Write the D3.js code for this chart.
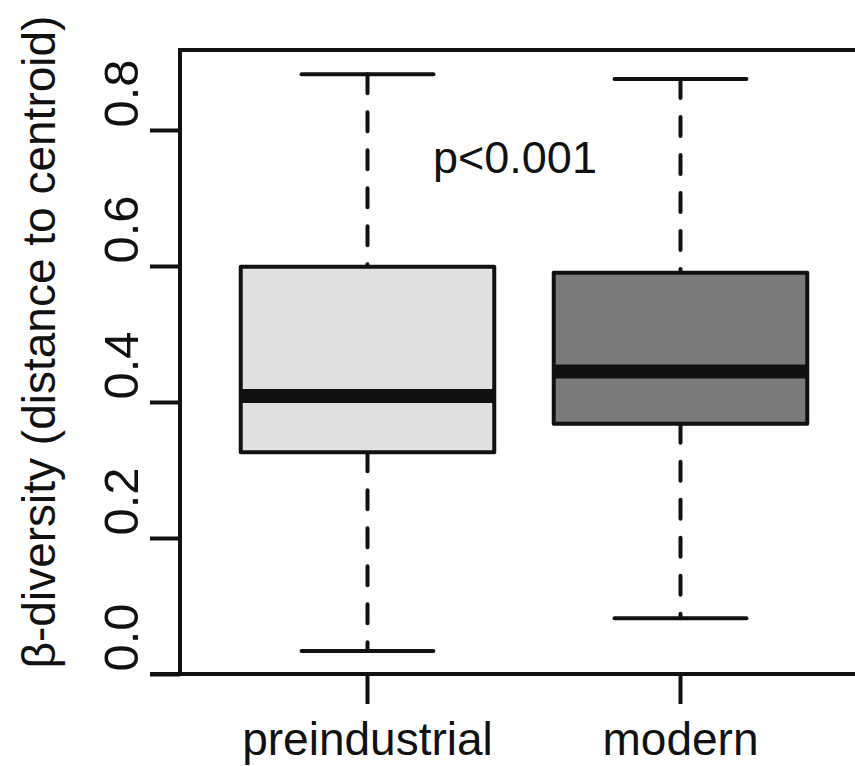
<!DOCTYPE html>
<html>
<head>
<meta charset="utf-8">
<script src="https://cdn.jsdelivr.net/npm/d3@7"></script>
<style>
  body { margin: 0; background: #fff; }
  svg { display: block; font-family: "Liberation Sans", Arial, Helvetica, sans-serif; }
</style>
</head>
<body>
<div id="chart"></div>
<script>
// data
const categories = ['preindustrial', 'modern'];
const whiskerLow = [0.034, 0.082];
const q1 = [0.326, 0.368];
const medians = [0.409, 0.445];
const q3 = [0.599, 0.590];
const whiskerHigh = [0.882, 0.875];
const yTicks = [0.0, 0.2, 0.4, 0.6, 0.8];
const fills = ['#dfe0e0', '#7a7a7a'];
const pLabel = 'p<0.001';

const W = 855, H = 766;
const plotLeft = 180, plotTop = 50, plotBottom = 674;
const ink = '#111';

const data = categories.map((c, i) => ({
  name: c, lo: whiskerLow[i], q1: q1[i], med: medians[i], q3: q3[i], hi: whiskerHigh[i], fill: fills[i]
}));

const x = d3.scaleBand().domain(categories).range([211, 837]);
const y = d3.scaleLinear().domain([0, 0.8]).range([plotBottom, 130]);

const svg = d3.select('#chart').append('svg')
  .attr('width', W).attr('height', H);

const boxW = x.bandwidth() * 0.81;
const capW = boxW * 0.52;

const g = svg.append('g');
const box = g.selectAll('g.box').data(data).enter().append('g').attr('class', 'box')
  .attr('transform', d => `translate(${x(d.name) + x.bandwidth() / 2},0)`);

// dashed whiskers
box.append('line')
  .attr('x1', 0).attr('x2', 0)
  .attr('y1', d => y(d.hi)).attr('y2', d => y(d.q3))
  .attr('stroke', ink).attr('stroke-width', 4)
  .attr('stroke-dasharray', '19,19').attr('stroke-linecap', 'round');
box.append('line')
  .attr('x1', 0).attr('x2', 0)
  .attr('y1', d => y(d.q1)).attr('y2', d => y(d.lo))
  .attr('stroke', ink).attr('stroke-width', 4)
  .attr('stroke-dasharray', '19,19').attr('stroke-linecap', 'round');

// staples
['hi', 'lo'].forEach(k => {
  box.append('line')
    .attr('x1', -capW / 2).attr('x2', capW / 2)
    .attr('y1', d => y(d[k])).attr('y2', d => y(d[k]))
    .attr('stroke', ink).attr('stroke-width', 4).attr('stroke-linecap', 'round');
});

// boxes
box.append('rect')
  .attr('x', -boxW / 2).attr('width', boxW)
  .attr('y', d => y(d.q3)).attr('height', d => y(d.q1) - y(d.q3))
  .attr('fill', d => d.fill)
  .attr('stroke', ink).attr('stroke-width', 4).attr('stroke-linejoin', 'round');

// medians
box.append('line')
  .attr('x1', -boxW / 2).attr('x2', boxW / 2)
  .attr('y1', d => y(d.med)).attr('y2', d => y(d.med))
  .attr('stroke', ink).attr('stroke-width', 14);

// frame (open on the right, cropped)
svg.append('path')
  .attr('d', `M${W + 5},${plotTop}H${plotLeft}V${y(0)}H150`)
  .attr('fill', 'none').attr('stroke', ink).attr('stroke-width', 4);
svg.append('line')
  .attr('x1', plotLeft).attr('x2', W + 5).attr('y1', y(0)).attr('y2', y(0))
  .attr('stroke', ink).attr('stroke-width', 4);

// y axis
const yAxis = svg.append('g')
  .attr('transform', `translate(${plotLeft},0)`)
  .call(d3.axisLeft(y).tickValues(yTicks).tickSize(30).tickFormat(d3.format('.1f')));
yAxis.select('.domain').remove();
yAxis.selectAll('.tick line').attr('stroke', ink).attr('stroke-width', 4);
yAxis.selectAll('.tick text')
  .attr('transform', 'rotate(-90)')
  .attr('x', 3).attr('y', -42).attr('dy', null)
  .attr('text-anchor', 'start')
  .attr('fill', ink)
  .style('font-size', '49px');

// x axis
const xAxis = svg.append('g')
  .attr('transform', `translate(0,${y(0)})`)
  .call(d3.axisBottom(x).tickSize(30));
xAxis.select('.domain').remove();
xAxis.selectAll('.tick line').attr('stroke', ink).attr('stroke-width', 4);
xAxis.selectAll('.tick text')
  .attr('y', 81).attr('dy', null)
  .attr('fill', ink)
  .style('font-size', '46px');

// y title
svg.append('text')
  .attr('transform', 'translate(55,342) rotate(-90)')
  .attr('text-anchor', 'middle')
  .attr('fill', ink)
  .style('font-size', '46px')
  .text('β-diversity (distance to centroid)');

// p-value annotation
svg.append('text')
  .attr('x', 433).attr('y', 173)
  .attr('fill', ink)
  .style('font-size', '45px')
  .text(pLabel);
</script>
</body>
</html>
